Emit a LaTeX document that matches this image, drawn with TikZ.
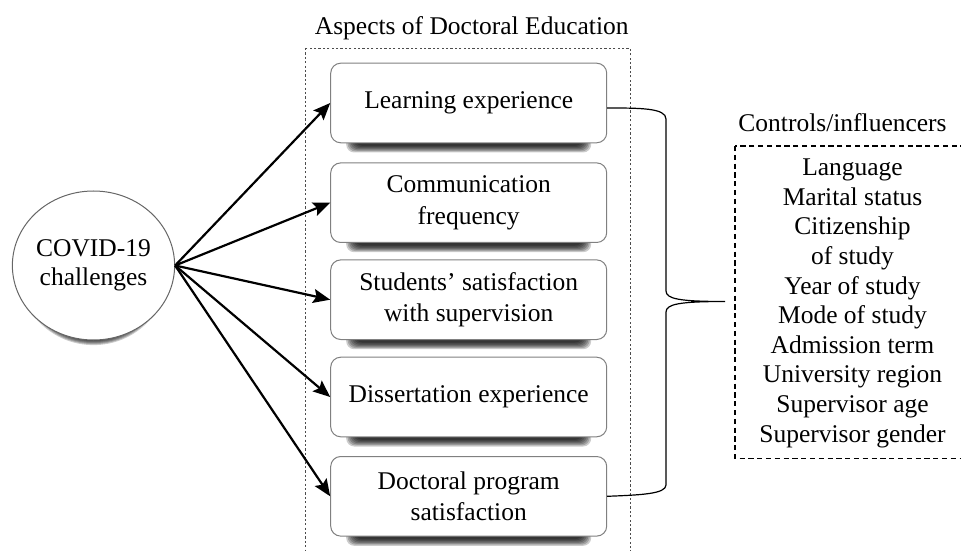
\documentclass[tikz,border=0pt]{standalone}
\usepackage{fontspec}
\setmainfont{Liberation Serif}
\usetikzlibrary{shapes.geometric,arrows.meta,backgrounds}
\begin{document}
\begin{tikzpicture}[x=0.5pt,y=-0.5pt,
  txt/.style={font=\fontsize{12.75}{14.8}\selectfont, align=center, inner sep=0pt, text=black},
  boxtxt/.style={font=\fontsize{12.75}{15.8}\selectfont, align=center, inner sep=0pt, text=black},
  shadowlayer/.style={fill=black, opacity=0.2},
  aspect/.style={boxtxt, draw=black!50, line width=0.5pt, rounded corners=5pt, fill=white,
    minimum width=138pt, minimum height=39.8pt},
  causecirc/.style={txt, ellipse, draw=black!60, line width=0.5pt, fill=white,
    minimum width=79.5pt, minimum height=74.5pt},
  arr/.style={line width=1.1pt, -{Stealth[length=8.5pt,width=7pt,inset=1.5pt]}},
  bracepath/.style={line width=0.6pt, black},
  dotbox/.style={draw=black!70, line width=0.4pt, dash pattern=on 1.1pt off 1.1pt},
  dashbox/.style={draw=black, line width=0.7pt, dash pattern=on 2.6pt off 1.8pt}
]
\useasboundingbox (0,0) rectangle (961,550);
\clip (0,0) rectangle (961,550);

% dotted frame of the aspects
\draw[dotbox] (305,48) rectangle (630,580);
\node[txt, anchor=base] (title) at (471.7,35) {Aspects of Doctoral Education};

% aspects
\node[aspect] (b1) at (468.7,103) {Learning experience};
\node[aspect] (b2) at (468.7,202.7) {Communication\\frequency};
\node[aspect] (b3) at (468.7,299.7) {Students’ satisfaction\\with supervision};
\node[aspect] (b4) at (468.7,397) {Dissertation experience};
\node[aspect] (b5) at (468.7,496.3) {Doctoral program\\satisfaction};

% cause
\node[causecirc] (cov) at (93.5,265.5) {COVID-19\\challenges};

% soft shadows
\begin{pgfonlayer}{background}
\foreach \b in {b1,b2,b3,b4,b5}
  \foreach \k in {0,...,6}
    \fill[shadowlayer, rounded corners=4pt]
      ([xshift=8pt+\k*0.7pt, yshift=-4.6pt+\k*0.55pt]\b.south west)
      rectangle ([xshift=-8pt-\k*0.7pt, yshift=-6pt]\b.north east);
\foreach \k in {0,...,6}
  \fill[shadowlayer] ([yshift=-2.8pt]cov.center) ellipse [x radius=37.5pt-\k*0.5pt, y radius=37pt-\k*0.5pt];
\end{pgfonlayer}

\foreach \b in {b1,b2,b3,b4,b5}
  \draw[arr] (cov.east) -- (\b.west);

% brace
\coordinate (tip) at (725,301.5);
\draw[bracepath] ([yshift=-2.5pt]b1.east) .. controls (640,108) and (666,108) .. (666,119)
  -- (666,291) .. controls (666,299) and (680,301.5) .. (tip)
  .. controls (680,301.5) and (666,304) .. (666,312)
  -- (666,485) .. controls (666,494) and (640,495) .. (b5.east);

% controls
\node[txt, anchor=base] (ctitle) at (842.5,131.7) {Controls/influencers};
\draw[dashbox] (735,146) rectangle (1000,458.3);
\node[txt] (ctrl) at (852.5,303.3) {Language\\Marital status\\Citizenship\\of study\\Year of study\\Mode of study\\Admission term\\University region\\Supervisor age\\Supervisor gender};
\end{tikzpicture}
\end{document}
